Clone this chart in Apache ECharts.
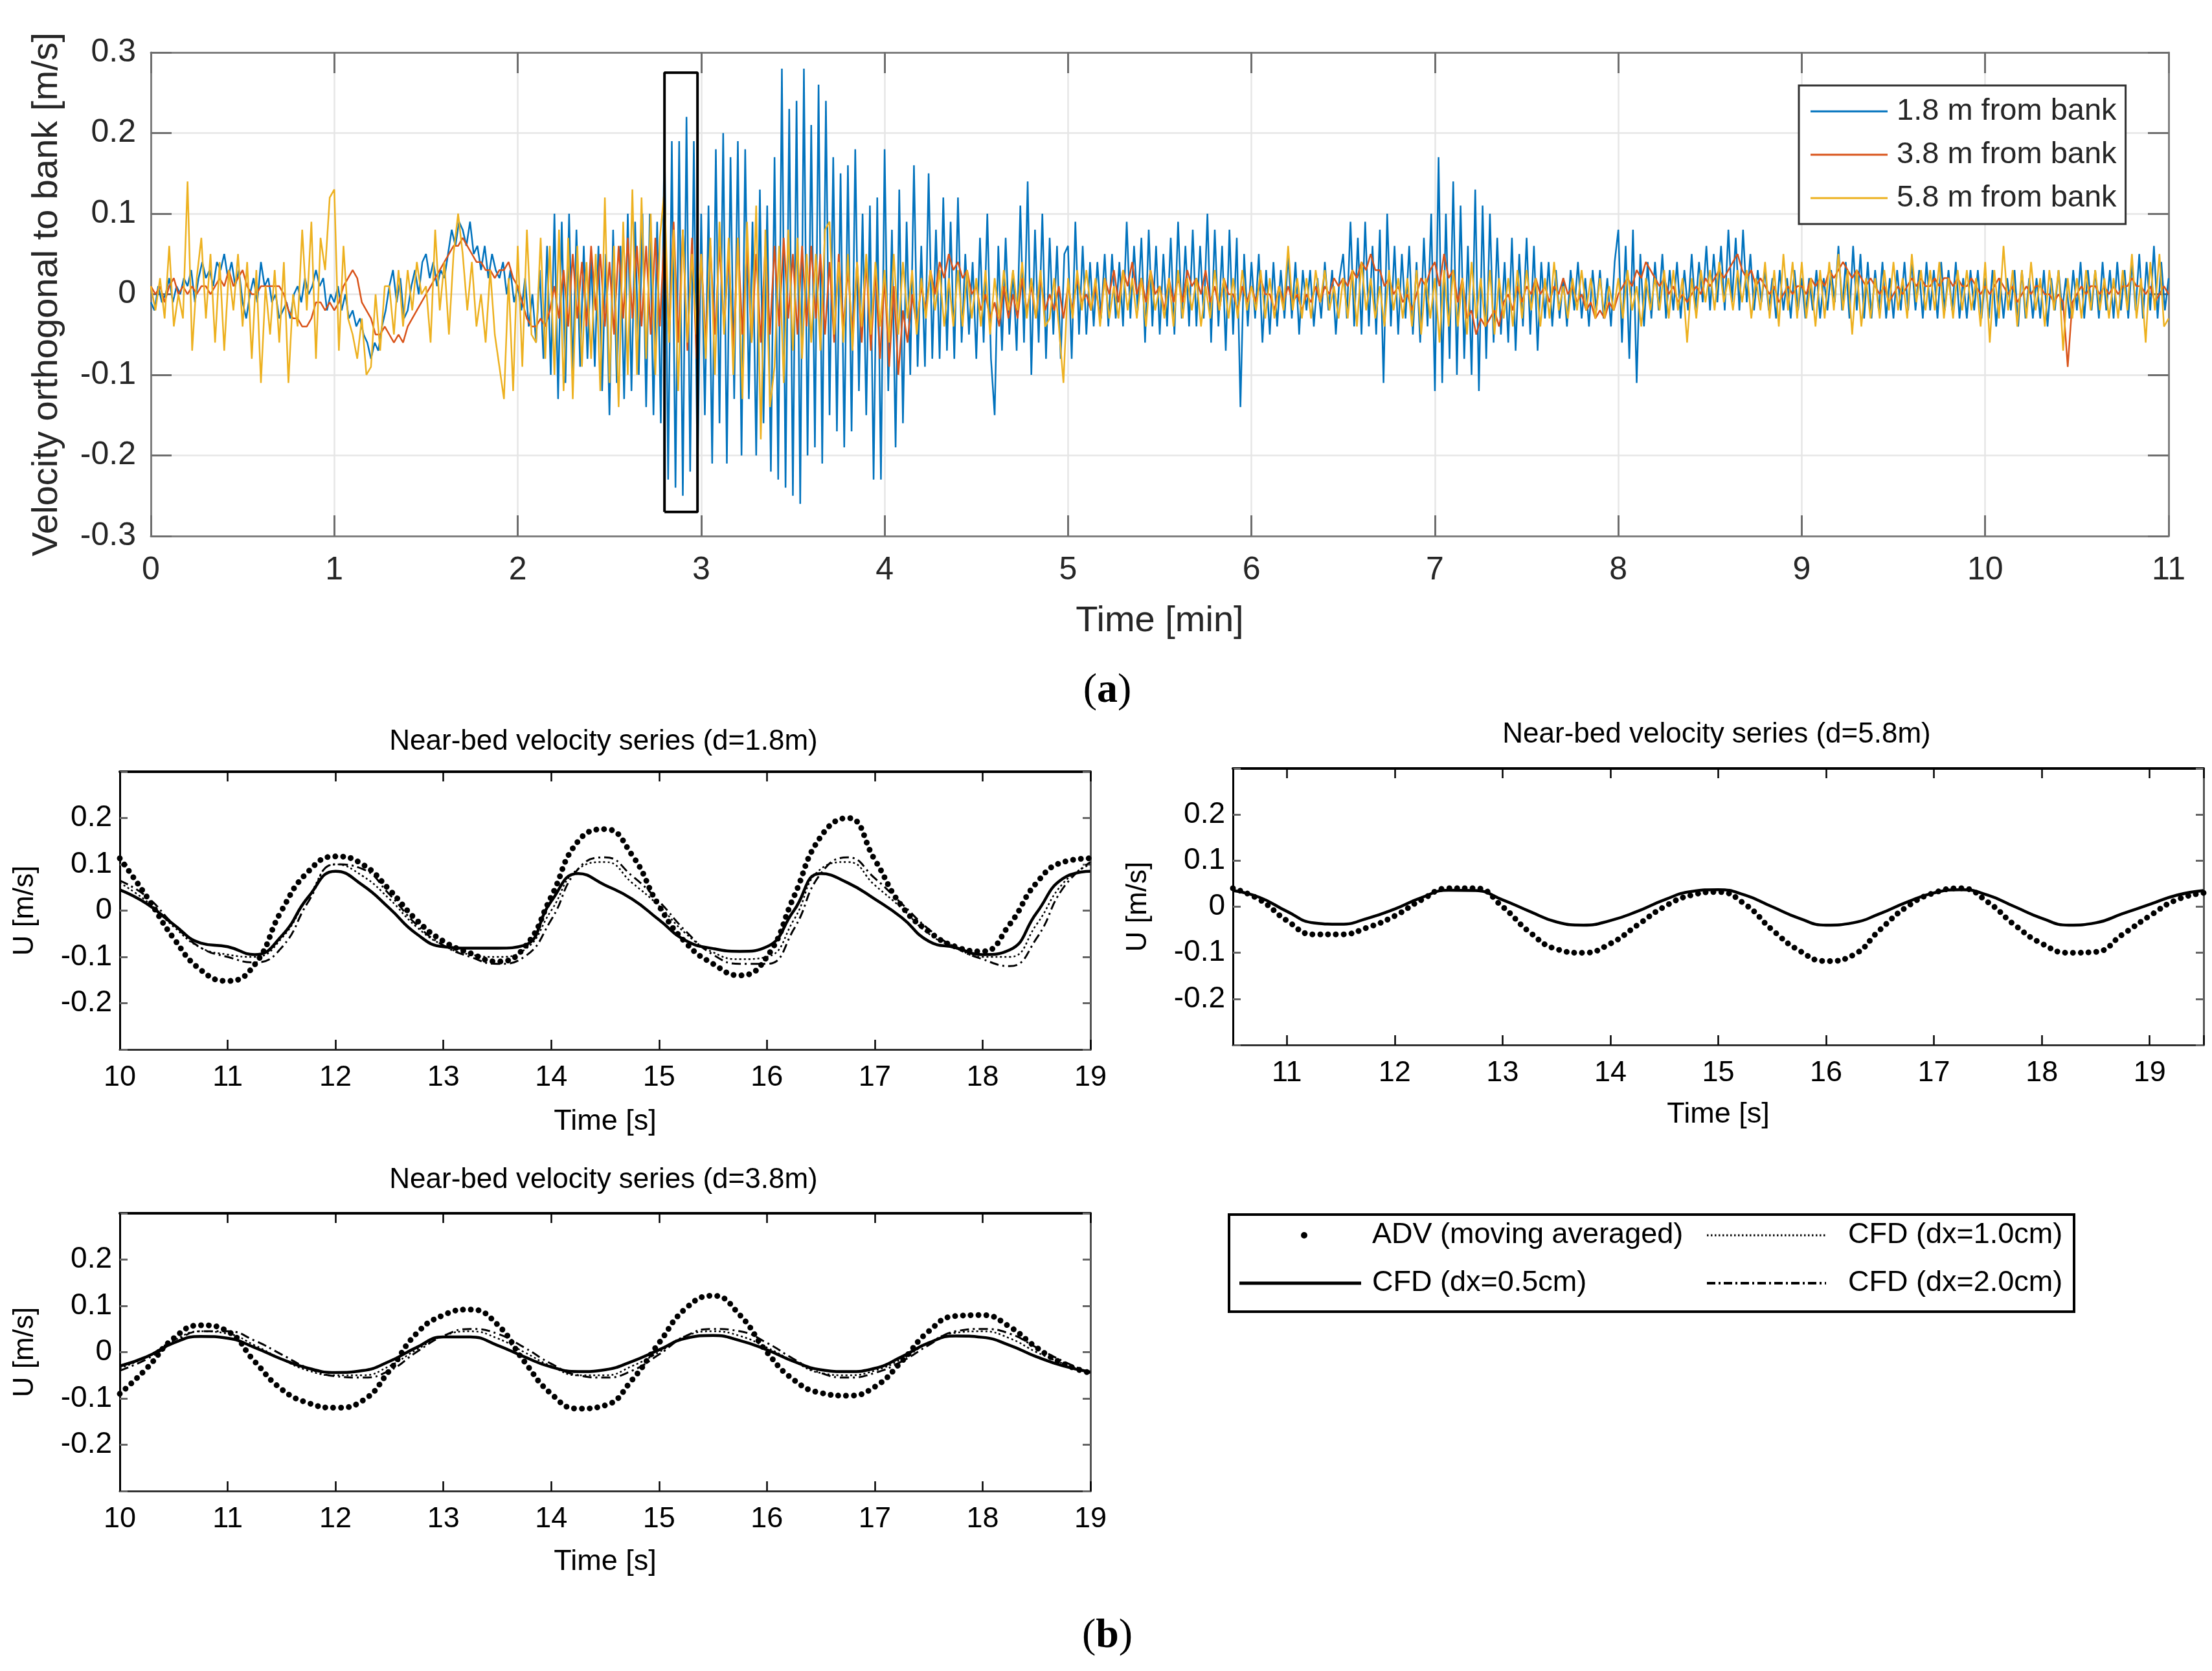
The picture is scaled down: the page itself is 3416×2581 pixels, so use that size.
<!DOCTYPE html>
<html>
<head>
<meta charset="utf-8">
<title>Velocity orthogonal to bank / near-bed velocity series</title>
<script src="https://cdn.jsdelivr.net/npm/echarts@6.0.0/dist/echarts.min.js"></script>
<style>
  html, body { margin: 0; padding: 0; background: #fff; }
  #main { width: 3416px; height: 2581px; }
</style>
</head>
<body>
<div id="main"></div>
<script>
// ---------------- (a) field record, values in cm/s ----------------
var BLUE_STEP = 0.02;   // min between samples
var OTHER_STEP = 0.025; // min between samples

// 1.8 m from bank
var blueCm = [
  -1,-2,1,-1,0, 2,-1,1,0,2, 1,3,-1,2,4, 2,3,1,4,3, 5,2,4,1,3,
  -1,-3,0,2,-1, 4,1,2,-1,0, -3,-2,-1,-3,0, 1,-1,2,0,1, 3,1,2,-2,0,
  -1,1,-2,0,-3, -2,-4,-3,-5,-6, -8,-6,-7,-4,-2, 1,3,-1,2,-3, -2,1,3,0,4,
  5,2,4,1,3, 2,5,8,6,9, 8,6,9,5,6, 3,6,2,5,3, 2,4,0,3,-1,
  1,-2,2,-4,0, -6,3,-8,6,-10, 10,-13,9,-11,10, -10,8,-9,6,-8, 5,-9,6,-12,5,
  -15,8,-11,6,-13, 10,-12,9,-10,10, -14,10,-15,9,-16, 20,-23,19,-24,19, -25,22,-22,19,-23,
  10,-15,11,-21,18, -16,20,-21,17,-13, 19,-20,18,-13,9, -20,13,-16,11,-22, 17,-23,28,-24,23,
  -25,24,-26,28,-20, 21,-19,26,-21,24, -15,17,-17,15,-19, 16,-17,18,-12,10, -15,11,-23,12,-23,
  18,-12,8,-19,13, -16,9,-10,16,-9, 6,-9,15,-8,8, -8,12,-7,9,-8, 12,-6,5,-5,4,
  -8,7,-6,10,-8, -15,6,-7,7,-5, 3,-7,11,-6,14, -10,8,-6,10,-8, 7,-5,6,-8,5,
  6,-8,9,-5,6, -5,4,-4,4,-3, 5,-4,5,-3,4, -4,9,-3,6,-2, 7,-6,8,-4,6,
  -5,5,-4,7,-5, 9,-3,6,-4,8, -4,6,-3,10,-6, 8,-4,6,-7,8, -5,7,-14,5,-4,
  4,-3,5,-6,3, -5,4,-4,3,-3, 5,-3,4,-5,3, -2,3,-4,2,-3, 4,-2,3,-5,2,
  5,-3,9,-4,7, -5,9,-4,6,-5, 8,-11,10,-4,6, -5,5,-3,6,-5, 4,-6,7,-4,10,
  -12,17,-11,10,-8, 14,-10,11,-8,6, -10,13,-12,11,-8, 10,-6,7,-5,4, -6,7,-7,5,-4,
  7,-5,6,-7,4, -3,4,-4,3,-3, 2,-4,3,-2,4, -3,2,-4,3,-2, 3,-3,2,-4,4,
  8,-6,6,-8,8, -11,5,-4,4,-3, 4,-2,5,-3,3, -2,4,-3,3,-2, 5,-2,4,-1,6,
  -2,5,-1,6,-2, 8,-1,7,-2,8, -1,5,-2,3,-1, 3,-2,2,-3,3, -2,2,-3,3,-2,
  2,-3,2,-2,3, -3,2,-2,3,-1, 6,-2,4,-3,6, -2,5,-3,4,-3, 3,-2,4,-3,2,
  -3,3,-2,4,-2, 4,-2,3,-3,4, -2,3,-3,4,-2, 3,-2,4,-3,2, -3,3,-2,3,-3,
  2,-3,3,-4,2, -3,2,-2,3,-4, 3,-3,2,-3,2, -3,3,-4,2,-2, 3,-2,2,-3,3,
  -2,4,-3,3,-2, 3,-3,4,-2,3, -3,4,-2,3,-3, 4,-2,5,-3,4, -2,6,-3,4,-2,
  2
];

// 3.8 m from bank
var redCm = [
  1,0,1,-1, 1,2,0,1, 0,1,0,1, 1,0,1,2, 1,3,1,2, 3,1,0,0, 1,1,1,1, 1,0,-2,-3, -3,-4,-4,-3, -1,-1,-2,-1,
  -2,-1,1,2, 3,2,-1,-2, -3,-5,-5,-4, -5,-6,-5,-6, -4,-3,-2,-1, 0,1,2,3, 4,5,6,6, 7,6,5,4, 4,3,3,2, 3,3,4,2,
  1,-1,-3,-4, -4,-3,-4,-2, 1,-3,3,-4, 5,-3,4,-4, 6,-2,5,-4, 4,-5,6,-3, 7,-3,6,-4, 6,-5,7,-4, 8,-5,9,-6, 8,-7,7,-8,
  5,-6,6,-5, 6,-4,5,-7, 7,-5,6,-6, 5,-6,6,-5, 6,-4,7,-3, 5,-5,6,-4, 6,-3,5,-5, 4,-6,5,-4, 3,-5,4,-6, 4,-7,3,-8,
  2,-9,1,-10, -2,-6,0,-4, 1,-2,3,0, 4,2,5,3, 4,2,3,0, 1,-2,0,-3, -1,-4,1,-3, 0,-3,2,-2, 1,-3,2,-2, 0,-2,1,-3,
  1,-2,2,-1, 0,-2,1,-3, 2,0,3,-1, 3,1,4,0, 2,-1,3,0, 1,-2,2,-1, 2,-1,3,1, 2,0,3,-1, 1,-2,2,0, 0,-2,1,-1,
  1,-1,2,0, 0,-2,1,-1, 1,-1,0,-2, 0,-1,1,-1, 1,0,2,1, 2,1,3,2, 4,3,5,3, 3,1,2,0, 1,-1,0,-2, 0,2,1,3,
  4,1,5,2, 3,-1,2,-3, -2,-5,-3,-4, -3,-2,-4,-1, 0,-2,1,-1, 1,0,2,0, 1,-1,1,0, 2,0,1,-1, 0,-2,-1,-3, -2,-3,-1,-2,
  0,1,2,1, 3,2,4,3, 2,1,2,0, 1,-1,0,-1, 0,1,0,2, 1,2,3,2, 3,4,5,3, 2,3,1,2, 1,0,1,-1, 0,1,0,1,
  1,0,2,1, 2,1,3,2, 3,4,3,2, 3,2,1,2, 1,0,1,-1, 0,1,0,1, 2,1,2,1, 1,2,1,2, 2,1,2,1, 1,2,1,0,
  1,0,1,2, 1,0,1,-1, 0,1,0,1, 1,0,0,-1, 0,-1,-9,-1, 0,1,0,1, 1,0,1,0, 1,0,1,1, 2,1,1,0, 1,-1,0,1,
  0
];

// 5.8 m from bank
var yellowCm = [
  1,-2,2,-3, 6,-4,0,-3, 14,-7,2,7, -3,5,-6,4, -7,3,-2,5, -4,4,-8,3, -11,1,-5,3, -6,4,-11,0, -4,8,-2,9, -8,7,3,12,
  13,-7,6,-3, -5,-8,-3,-10, -9,0,-7,1, 1,-5,3,-4, 3,-2,4,0, 1,-6,8,-2, 4,-5,5,10, 5,-2,4,-4, 0,-6,3,-5, -9,-13,2,-12,
  6,-9,8,-5, -6,7,-8,6, -10,8,-12,7, -13,6,-9,4, -8,5,-12,12, -11,6,-14,9, -10,13,-10,12, -8,10,-10,7, 13,-6,8,-12, 8,-6,5,-5,
  5,-8,7,-10, 9,-5,7,-10, 7,-13,9,-6, 11,-18,8,-14, -9,6,-11,8, -7,7,-8,5, -6,5,-7,8, 9,-5,4,-6, 5,-7,4,-4, 5,-5,4,-4,
  3,-6,5,-5, 4,-3,3,-5, 2,-3,3,-2, 3,-4,2,-4, 3,-4,3,-3, 2,-4,3,-5, 2,-3,3,-2, 3,-2,4,-3, 2,-3,3,-4, -3,2,-4,-11,
  2,-3,3,-2, 3,-2,2,-4, 2,-3,1,-3, 3,-2,2,-3, 2,-4,3,-2, 1,-3,2,-4, 3,-3,2,-2, 2,-4,1,-3, 3,-2,2,-3, 2,-3,3,-2,
  1,-2,3,-3, 2,-3,1,-2, 6,-2,2,-3, 2,-3,3,-1, 3,-2,1,-3, 2,-3,3,-4, 4,-2,2,-3, 1,-4,3,-2, 2,-3,2,-4, 3,-5,2,-3,
  2,-6,3,-4, 3,-4,2,-5, 4,-3,2,-4, 3,-5,2,-3, 2,-4,3,-3, 3,-2,2,-4, 2,-3,4,-2, 1,-3,2,-2, 3,-2,2,-3, 2,-3,1,-2,
  2,-3,3,-2, 1,-4,2,-2, 2,-2,3,-3, 3,-2,2,-6, 2,-3,3,-1, 3,-2,4,-1, 2,-2,3,-1, 3,-3,2,-2, 4,-3,3,-4, 5,-2,4,-3,
  4,-3,2,-4, 3,-3,4,-2, 5,-2,3,-5, 3,-4,2,-3, 2,-3,3,-2, 4,-2,2,-3, 5,-1,3,-2, 3,-2,4,-3, 2,-3,3,-2, 3,-2,2,-4,
  4,-6,3,-3, 6,-2,3,-4, 3,-3,4,-2, 2,-4,3,-2, 3,-7,2,-3, 2,-3,3,-2, 3,-2,2,-3, 2,-3,3,-2, 5,-3,2,-6, 4,-2,5,-4,
  -3
];

// highlighted window (min, m/s)
var boxT = [2.8, 2.98];
var boxV = [-0.27, 0.275];

// ---------------- (b) near-bed series, m/s ----------------
var tB13 = [10, 10.25, 10.5, 10.75, 11, 11.25, 11.5, 11.75, 12, 12.25, 12.5, 12.75, 13, 13.25, 13.5, 13.75,
  14, 14.25, 14.5, 14.75, 15, 15.25, 15.5, 15.75, 16, 16.25, 16.5, 16.75, 17, 17.25, 17.5, 17.75,
  18, 18.25, 18.5, 18.75, 19];
var tB2 = [10.5, 10.75, 11, 11.25, 11.5, 11.75, 12, 12.25, 12.5, 12.75, 13, 13.25, 13.5, 13.75, 14, 14.25,
  14.5, 14.75, 15, 15.25, 15.5, 15.75, 16, 16.25, 16.5, 16.75, 17, 17.25, 17.5, 17.75, 18, 18.25,
  18.5, 18.75, 19, 19.25, 19.5];

// d = 1.8 m
var adv18 = [0.113, 0.03, -0.06, -0.128, -0.152, -0.117, 0.0, 0.085, 0.117, 0.1, 0.045, -0.02, -0.066, -0.092, -0.11, -0.08,
  0.03, 0.15, 0.176, 0.12, 0.01, -0.07, -0.115, -0.14, -0.1, 0.03, 0.16, 0.2, 0.11, 0.01, -0.045, -0.078,
  -0.088, -0.03, 0.06, 0.105, 0.113];
var cfd05_18 = [0.045, 0.015, -0.03, -0.07, -0.078, -0.095, -0.055, 0.03, 0.085, 0.055, 0.005, -0.05, -0.078, -0.081, -0.081, -0.075,
  0.02, 0.08, 0.055, 0.025, -0.02, -0.065, -0.082, -0.088, -0.078, 0.0, 0.08, 0.06, 0.025, -0.015, -0.066, -0.08,
  -0.095, -0.085, -0.005, 0.07, 0.085];
var cfd10_18 = [0.06, 0.02, -0.035, -0.08, -0.095, -0.1, -0.06, 0.03, 0.1, 0.075, 0.025, -0.035, -0.075, -0.095, -0.1, -0.085,
  0.0, 0.09, 0.105, 0.06, 0.01, -0.05, -0.09, -0.105, -0.1, -0.02, 0.09, 0.105, 0.055, 0.005, -0.05, -0.08,
  -0.1, -0.1, -0.03, 0.06, 0.1];
var cfd20_18 = [0.065, 0.03, -0.03, -0.08, -0.1, -0.112, -0.08, 0.02, 0.1, 0.09, 0.035, -0.03, -0.075, -0.1, -0.115, -0.1,
  -0.02, 0.09, 0.115, 0.075, 0.02, -0.045, -0.095, -0.115, -0.115, -0.04, 0.08, 0.115, 0.07, 0.015, -0.04, -0.08,
  -0.105, -0.12, -0.06, 0.05, 0.105];

// d = 5.8 m
var adv58 = [0.04, 0.015, -0.03, -0.06, -0.06, -0.045, -0.02, 0.015, 0.04, 0.04, 0.0, -0.055, -0.092, -0.1, -0.08, -0.04,
  0.0, 0.025, 0.032, 0.005, -0.05, -0.095, -0.118, -0.105, -0.05, 0.0, 0.03, 0.04, 0.01, -0.04, -0.08, -0.1,
  -0.098, -0.06, -0.02, 0.015, 0.03];
var cfd05_58 = [0.035, 0.02, -0.01, -0.035, -0.038, -0.025, -0.005, 0.02, 0.036, 0.035, 0.015, -0.01, -0.033, -0.04, -0.03, -0.01,
  0.015, 0.033, 0.037, 0.025, 0.0, -0.025, -0.04, -0.035, -0.015, 0.01, 0.03, 0.037, 0.025, 0.0, -0.025, -0.04,
  -0.035, -0.015, 0.005, 0.025, 0.035];

// d = 3.8 m
var adv38 = [-0.09, -0.035, 0.03, 0.058, 0.045, -0.02, -0.08, -0.11, -0.12, -0.105, -0.04, 0.04, 0.08, 0.092, 0.06, -0.02,
  -0.09, -0.122, -0.115, -0.06, 0.02, 0.095, 0.122, 0.08, 0.0, -0.06, -0.088, -0.094, -0.075, -0.02, 0.045, 0.078,
  0.08, 0.055, 0.01, -0.025, -0.045];
var cfd05_38 = [-0.03, -0.01, 0.02, 0.034, 0.03, 0.01, -0.015, -0.035, -0.044, -0.04, -0.02, 0.01, 0.033, 0.033, 0.015, -0.01,
  -0.032, -0.042, -0.038, -0.02, 0.005, 0.03, 0.036, 0.025, 0.005, -0.02, -0.038, -0.042, -0.035, -0.01, 0.02, 0.035,
  0.032, 0.015, -0.01, -0.03, -0.043];
var cfd10_38 = [-0.035, -0.01, 0.025, 0.045, 0.04, 0.015, -0.015, -0.04, -0.05, -0.05, -0.03, 0.005, 0.035, 0.045, 0.03, 0.0,
  -0.03, -0.05, -0.05, -0.03, 0.0, 0.035, 0.045, 0.035, 0.01, -0.02, -0.045, -0.05, -0.04, -0.015, 0.02, 0.042,
  0.045, 0.03, 0.0, -0.025, -0.045];
var cfd20_38 = [-0.04, -0.015, 0.02, 0.045, 0.045, 0.025, -0.005, -0.035, -0.052, -0.055, -0.04, 0.0, 0.035, 0.05, 0.04, 0.01,
  -0.025, -0.05, -0.055, -0.04, -0.005, 0.035, 0.05, 0.045, 0.02, -0.015, -0.045, -0.055, -0.045, -0.02, 0.015, 0.045,
  0.05, 0.04, 0.01, -0.02, -0.045];

// ---------------- helpers ----------------
var FONT = '"Liberation Sans", Arial, Helvetica, sans-serif';
var SERIF = '"Liberation Serif", "Times New Roman", serif';

var sampled = function (step, arr) {
  return arr.map(function (v, i) { return [+(i * step).toFixed(3), v / 100]; });
};
var zip = function (t, v) {
  return t.map(function (x, i) { return [x, v[i]]; });
};

// legend icons; the trailing move-to keeps a gap before the text
var fieldIcon = 'path://M0,0h119v3h-119ZM128,0';
var solidIcon = 'path://M0,0h188v5h-188ZM200,0';
var dottedIcon = 'path://';
for (var dx = 0; dx <= 180; dx += 6) {
  dottedIcon += 'M' + dx + ',0h2.5v3h-2.5Z';
}
dottedIcon += 'M213,0';
var dashDotIcon = 'path://';
for (var dd = 0; dd <= 156; dd += 26) {
  dashDotIcon += 'M' + dd + ',0h13v4h-13Z' + 'M' + (dd + 18) + ',0h3v4h-3Z';
}
dashDotIcon += 'M182,0h2v4h-2ZM213,0';

// axes of panel (a)
var aX = function (pos) {
  return {
    gridIndex: 0, type: 'value', position: pos, min: 0, max: 11, interval: 1,
    axisLine: { show: true, onZero: false, lineStyle: { color: '#808080', width: 3 } },
    axisTick: { show: true, inside: true, length: 32, lineStyle: { color: '#6e6e6e', width: 3 } },
    axisLabel: { show: pos === 'bottom', color: '#262626', fontSize: 50, margin: 28, fontFamily: FONT },
    splitLine: { show: pos === 'bottom', lineStyle: { color: '#e6e6e6', width: 2.5 } },
    name: pos === 'bottom' ? 'Time [min]' : '',
    nameLocation: 'middle', nameGap: 104,
    nameTextStyle: { color: '#262626', fontSize: 56, fontFamily: FONT }
  };
};
var aY = function (pos) {
  return {
    gridIndex: 0, type: 'value', position: pos, min: -0.3, max: 0.3, interval: 0.1,
    axisLine: { show: true, onZero: false, lineStyle: { color: '#808080', width: 3 } },
    axisTick: { show: true, inside: true, length: 32, lineStyle: { color: '#6e6e6e', width: 3 } },
    axisLabel: { show: pos === 'left', color: '#262626', fontSize: 50, margin: 23, fontFamily: FONT },
    splitLine: { show: pos === 'left', lineStyle: { color: '#e6e6e6', width: 2.5 } },
    name: pos === 'left' ? 'Velocity orthogonal to bank [m/s]' : '',
    nameLocation: 'middle', nameGap: 132,
    nameTextStyle: { color: '#262626', fontSize: 56, fontFamily: FONT }
  };
};

// axes of the (b) panels
var bX = function (g, pos, lo, hi, gap) {
  var ax = {
    gridIndex: g, type: 'value', position: pos, min: lo, max: hi,
    axisLine: { show: true, onZero: false, lineStyle: { color: pos === 'top' ? '#000' : '#333', width: pos === 'top' ? 4 : 3 } },
    axisTick: { show: true, inside: true, length: 15, lineStyle: { color: '#000', width: 2.5 } },
    axisLabel: {
      show: pos === 'bottom', color: '#000', fontSize: 45, margin: 21, fontFamily: FONT,
      formatter: function (v) { return Math.abs(v - Math.round(v)) < 1e-6 ? String(Math.round(v)) : ''; }
    },
    splitLine: { show: false },
    name: pos === 'bottom' ? 'Time [s]' : '',
    nameLocation: 'middle', nameGap: gap,
    nameTextStyle: { color: '#000', fontSize: 45, fontFamily: FONT }
  };
  if (lo % 1 === 0) {
    ax.interval = 1;
  } else {
    ax.minInterval = 1;
    ax.maxInterval = 1;
    ax.splitNumber = 9;
  }
  return ax;
};
var bY = function (g, pos) {
  return {
    gridIndex: g, type: 'value', position: pos, min: -0.3, max: 0.3, interval: 0.1,
    axisLine: { show: true, onZero: false, lineStyle: { color: pos === 'left' ? '#000' : '#555', width: 3 } },
    axisTick: { show: true, inside: true, length: 12, lineStyle: { color: '#666', width: 3 } },
    axisLabel: {
      show: pos === 'left', color: '#000', fontSize: 46, margin: 12, fontFamily: FONT,
      formatter: function (v) { return Math.abs(v) > 0.25 ? '' : String(+v.toFixed(1)); }
    },
    splitLine: { show: false },
    name: pos === 'left' ? 'U [m/s]' : '',
    nameLocation: 'middle', nameGap: 124,
    nameTextStyle: { color: '#000', fontSize: 44, fontFamily: FONT }
  };
};

var field = function (name, color, step, arr) {
  return {
    name: name, type: 'line', xAxisIndex: 0, yAxisIndex: 0,
    data: sampled(step, arr), color: color,
    symbol: 'none', showSymbol: false, animation: false,
    lineStyle: { color: color, width: 2.5 },
    emphasis: { disabled: true }
  };
};

var nearBed = function (g, kind, t, v) {
  var styles = {
    'ADV (moving averaged)': { width: 9, type: [0.01, 12], cap: 'round' },
    'CFD (dx=1.0cm)': { width: 2.5, type: [3, 4] },
    'CFD (dx=2.0cm)': { width: 3, type: [14, 6, 3, 6] },
    'CFD (dx=0.5cm)': { width: 4.5, type: 'solid' }
  };
  var ls = styles[kind];
  ls.color = '#000';
  return {
    name: kind, type: 'line', xAxisIndex: 2 * g, yAxisIndex: 2 * g,
    data: zip(t, v), color: '#000', smooth: true,
    symbol: 'none', showSymbol: false, animation: false,
    lineStyle: ls,
    emphasis: { disabled: true }
  };
};

var myChart = echarts.init(document.getElementById('main'), null, { renderer: 'canvas' });

var option = {
  backgroundColor: '#fff',
  animation: false,
  grid: [
    { left: 233, top: 81, width: 3116, height: 747 },
    { left: 185, top: 1192, width: 1499, height: 429 },
    { left: 1904, top: 1187, width: 1499, height: 427 },
    { left: 185, top: 1874, width: 1499, height: 429 }
  ],
  xAxis: [
    aX('bottom'), aX('top'),
    bX(1, 'bottom', 10, 19, 89), bX(1, 'top', 10, 19, 89),
    bX(2, 'bottom', 10.5, 19.5, 85), bX(2, 'top', 10.5, 19.5, 85),
    bX(3, 'bottom', 10, 19, 87), bX(3, 'top', 10, 19, 87)
  ],
  yAxis: [
    aY('left'), aY('right'),
    bY(1, 'left'), bY(1, 'right'),
    bY(2, 'left'), bY(2, 'right'),
    bY(3, 'left'), bY(3, 'right')
  ],
  legend: [
    {
      orient: 'vertical', left: 2778, top: 132,
      padding: [15, 14, 15, 18],
      backgroundColor: '#fff', borderColor: '#333', borderWidth: 3,
      itemWidth: 128, itemHeight: 6, itemGap: 17,
      selectedMode: false,
      icon: fieldIcon,
      itemStyle: { borderWidth: 0 },
      textStyle: { fontSize: 47, lineHeight: 50, color: '#262626', fontFamily: FONT },
      data: ['1.8 m from bank', '3.8 m from bank', '5.8 m from bank']
    },
    {
      orient: 'vertical', left: 1914, top: 1883, padding: 0,
      itemWidth: 200, itemHeight: 10, itemGap: 24,
      selectedMode: false,
      itemStyle: { borderWidth: 0 },
      textStyle: { fontSize: 45, lineHeight: 50, color: '#000', fontFamily: FONT },
      data: [
        { name: 'ADV (moving averaged)', icon: 'circle' },
        { name: 'CFD (dx=0.5cm)', icon: solidIcon }
      ]
    },
    {
      orient: 'vertical', left: 2636, top: 1883, padding: 0,
      itemWidth: 213, itemHeight: 10, itemGap: 24,
      selectedMode: false,
      itemStyle: { borderWidth: 0 },
      textStyle: { fontSize: 45, lineHeight: 50, color: '#000', fontFamily: FONT },
      data: [
        { name: 'CFD (dx=1.0cm)', icon: dottedIcon },
        { name: 'CFD (dx=2.0cm)', icon: dashDotIcon }
      ]
    }
  ],
  graphic: [
    { type: 'rect', shape: { x: 1898, y: 1876, width: 1305, height: 150 },
      style: { fill: 'none', stroke: '#000', lineWidth: 4 }, z: 10 },
    { type: 'text', x: 932, y: 1146,
      style: { text: 'Near-bed velocity series (d=1.8m)', align: 'center', verticalAlign: 'middle', font: '44px ' + FONT, fill: '#000' } },
    { type: 'text', x: 2651, y: 1135,
      style: { text: 'Near-bed velocity series (d=5.8m)', align: 'center', verticalAlign: 'middle', font: '44px ' + FONT, fill: '#000' } },
    { type: 'text', x: 932, y: 1823,
      style: { text: 'Near-bed velocity series (d=3.8m)', align: 'center', verticalAlign: 'middle', font: '44px ' + FONT, fill: '#000' } },
    { type: 'text', x: 1710, y: 1067,
      style: {
        text: '{n|(}{b|a}{n|)}', align: 'center', verticalAlign: 'middle',
        rich: {
          n: { fontSize: 64, fontFamily: SERIF, fill: '#000' },
          b: { fontSize: 64, fontFamily: SERIF, fontWeight: 'bold', fill: '#000' }
        }
      } },
    { type: 'text', x: 1710, y: 2527,
      style: {
        text: '{n|(}{b|b}{n|)}', align: 'center', verticalAlign: 'middle',
        rich: {
          n: { fontSize: 64, fontFamily: SERIF, fill: '#000' },
          b: { fontSize: 64, fontFamily: SERIF, fontWeight: 'bold', fill: '#000' }
        }
      } }
  ],
  series: [
    field('1.8 m from bank', '#0072BD', BLUE_STEP, blueCm),
    field('3.8 m from bank', '#D95319', OTHER_STEP, redCm),
    field('5.8 m from bank', '#EDB120', OTHER_STEP, yellowCm),
    {
      // black frame around the window shown in (b)
      type: 'line', xAxisIndex: 0, yAxisIndex: 0, z: 5,
      data: [[boxT[0], boxV[0]], [boxT[1], boxV[0]], [boxT[1], boxV[1]], [boxT[0], boxV[1]], [boxT[0], boxV[0]]],
      symbol: 'none', animation: false, color: '#000',
      lineStyle: { color: '#000', width: 4 },
      emphasis: { disabled: true }
    },
    nearBed(1, 'ADV (moving averaged)', tB13, adv18),
    nearBed(1, 'CFD (dx=1.0cm)', tB13, cfd10_18),
    nearBed(1, 'CFD (dx=2.0cm)', tB13, cfd20_18),
    nearBed(1, 'CFD (dx=0.5cm)', tB13, cfd05_18),
    nearBed(2, 'ADV (moving averaged)', tB2, adv58),
    nearBed(2, 'CFD (dx=0.5cm)', tB2, cfd05_58),
    nearBed(3, 'ADV (moving averaged)', tB13, adv38),
    nearBed(3, 'CFD (dx=1.0cm)', tB13, cfd10_38),
    nearBed(3, 'CFD (dx=2.0cm)', tB13, cfd20_38),
    nearBed(3, 'CFD (dx=0.5cm)', tB13, cfd05_38)
  ]
};

myChart.setOption(option);
</script>
</body>
</html>
